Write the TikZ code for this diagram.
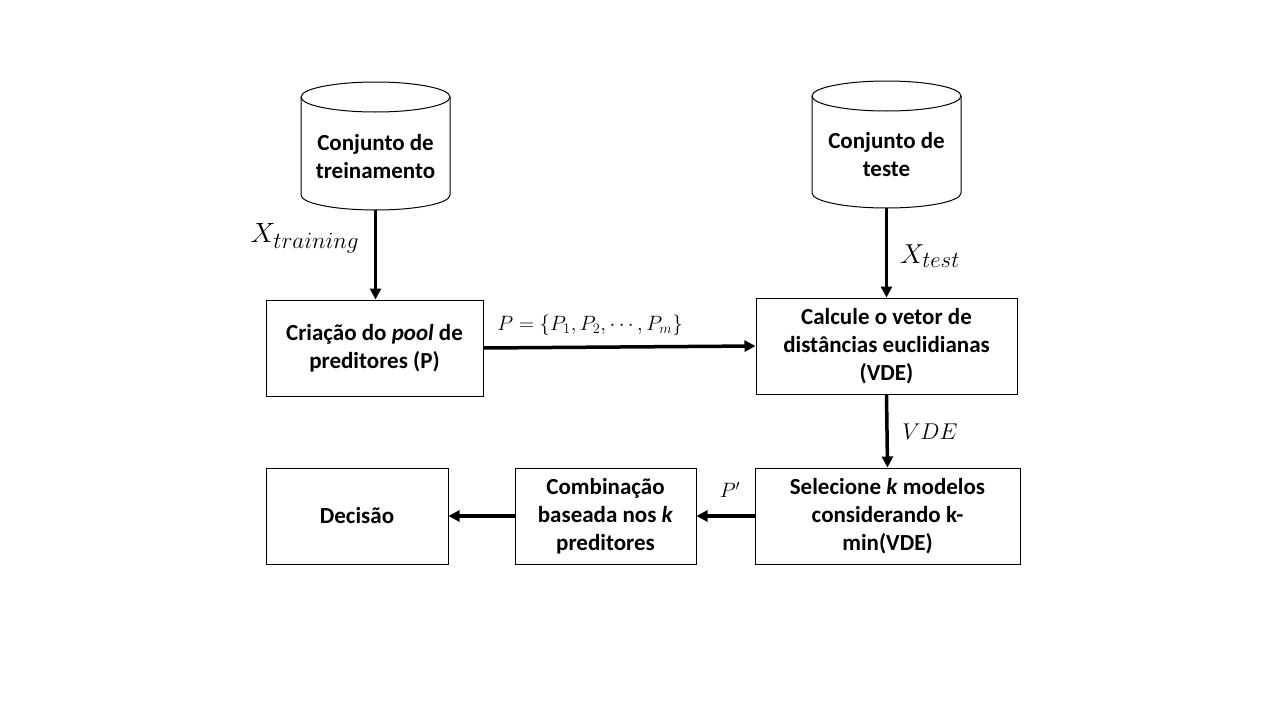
\documentclass[tikz,border=0pt]{standalone}
\usepackage{fontspec}
\setmainfont{Carlito}
\usetikzlibrary{arrows.meta}
\begin{document}
\begin{tikzpicture}[x=1pt,y=-1pt,
  box/.style={draw,line width=1pt,rectangle,minimum height=96pt,align=center,
    font=\fontsize{23}{28}\selectfont\bfseries,inner sep=2pt},
  cyltext/.style={align=center,font=\fontsize{23}{28}\selectfont\bfseries},
  cyl/.style={line width=1pt},
  flow/.style={line width=3.5pt,-{Triangle[length=11pt,width=11pt]}},
  mlab/.style={font=\fontsize{24.88}{30}\selectfont,inner sep=0pt},
  slab/.style={font=\fontsize{20.74}{24}\selectfont,inner sep=0pt}]
\useasboundingbox (0,0) rectangle (1280,720);
% cylinders
\draw[cyl] (301,97) -- (301,195) arc (180:0:74.5 and 15) -- (450,97);
\draw[cyl] (375.5,97) ellipse (74.5 and 15);
\coordinate (trainbot) at (375.5,210);
\node[cyltext] (train) at (375.5,157) {Conjunto de\\treinamento};
\draw[cyl] (812,96) -- (812,193) arc (180:0:74.5 and 15) -- (961,96);
\draw[cyl] (886.5,96) ellipse (74.5 and 15);
\coordinate (testbot) at (886.5,208);
\node[cyltext] (test) at (886.5,155) {Conjunto de\\teste};
% boxes
\node[box,minimum width=217pt] (criacao) at (374.5,348) {Criação do \textit{pool} de\\preditores (P)};
\node[box,minimum width=261pt] (calcule) at (886.5,346) {Calcule o vetor de\\distâncias euclidianas\\(VDE)};
\node[box,minimum width=265pt] (selec) at (887.5,516) {Selecione \textit{k} modelos\\considerando k-\\min(VDE)};
\node[box,minimum width=181pt] (comb) at (605.5,516) {Combinação\\baseada nos \textit{k}\\preditores};
\node[box,minimum width=182pt] (decisao) at (357,516) {Decisão};
% arrows
\draw[flow] (trainbot) -- (trainbot |- criacao.north);
\draw[flow] (testbot) -- (testbot |- calcule.north);
\draw[flow] (criacao.east) -- (calcule.west);
\draw[flow] (calcule.south) -- (selec.north);
\draw[flow] (selec.west) -- (comb.east);
\draw[flow] (comb.west) -- (decisao.east);
% labels
\node[mlab] (lxtr) at (305,238) {\scalebox{1.12}{$X_{training}$}};
\node[mlab] (lxte) at (930,256) {\scalebox{1.1}{$X_{test}$}};
\node[slab] (lp) at (590,325) {$P=\{P_1,P_2,\cdots,P_m\}$};
\node[slab] (lvde) at (930,432) {\scalebox{1.1}{$VDE$}};
\node[slab] (lpp) at (730,490) {$P'$};
\end{tikzpicture}
\end{document}
